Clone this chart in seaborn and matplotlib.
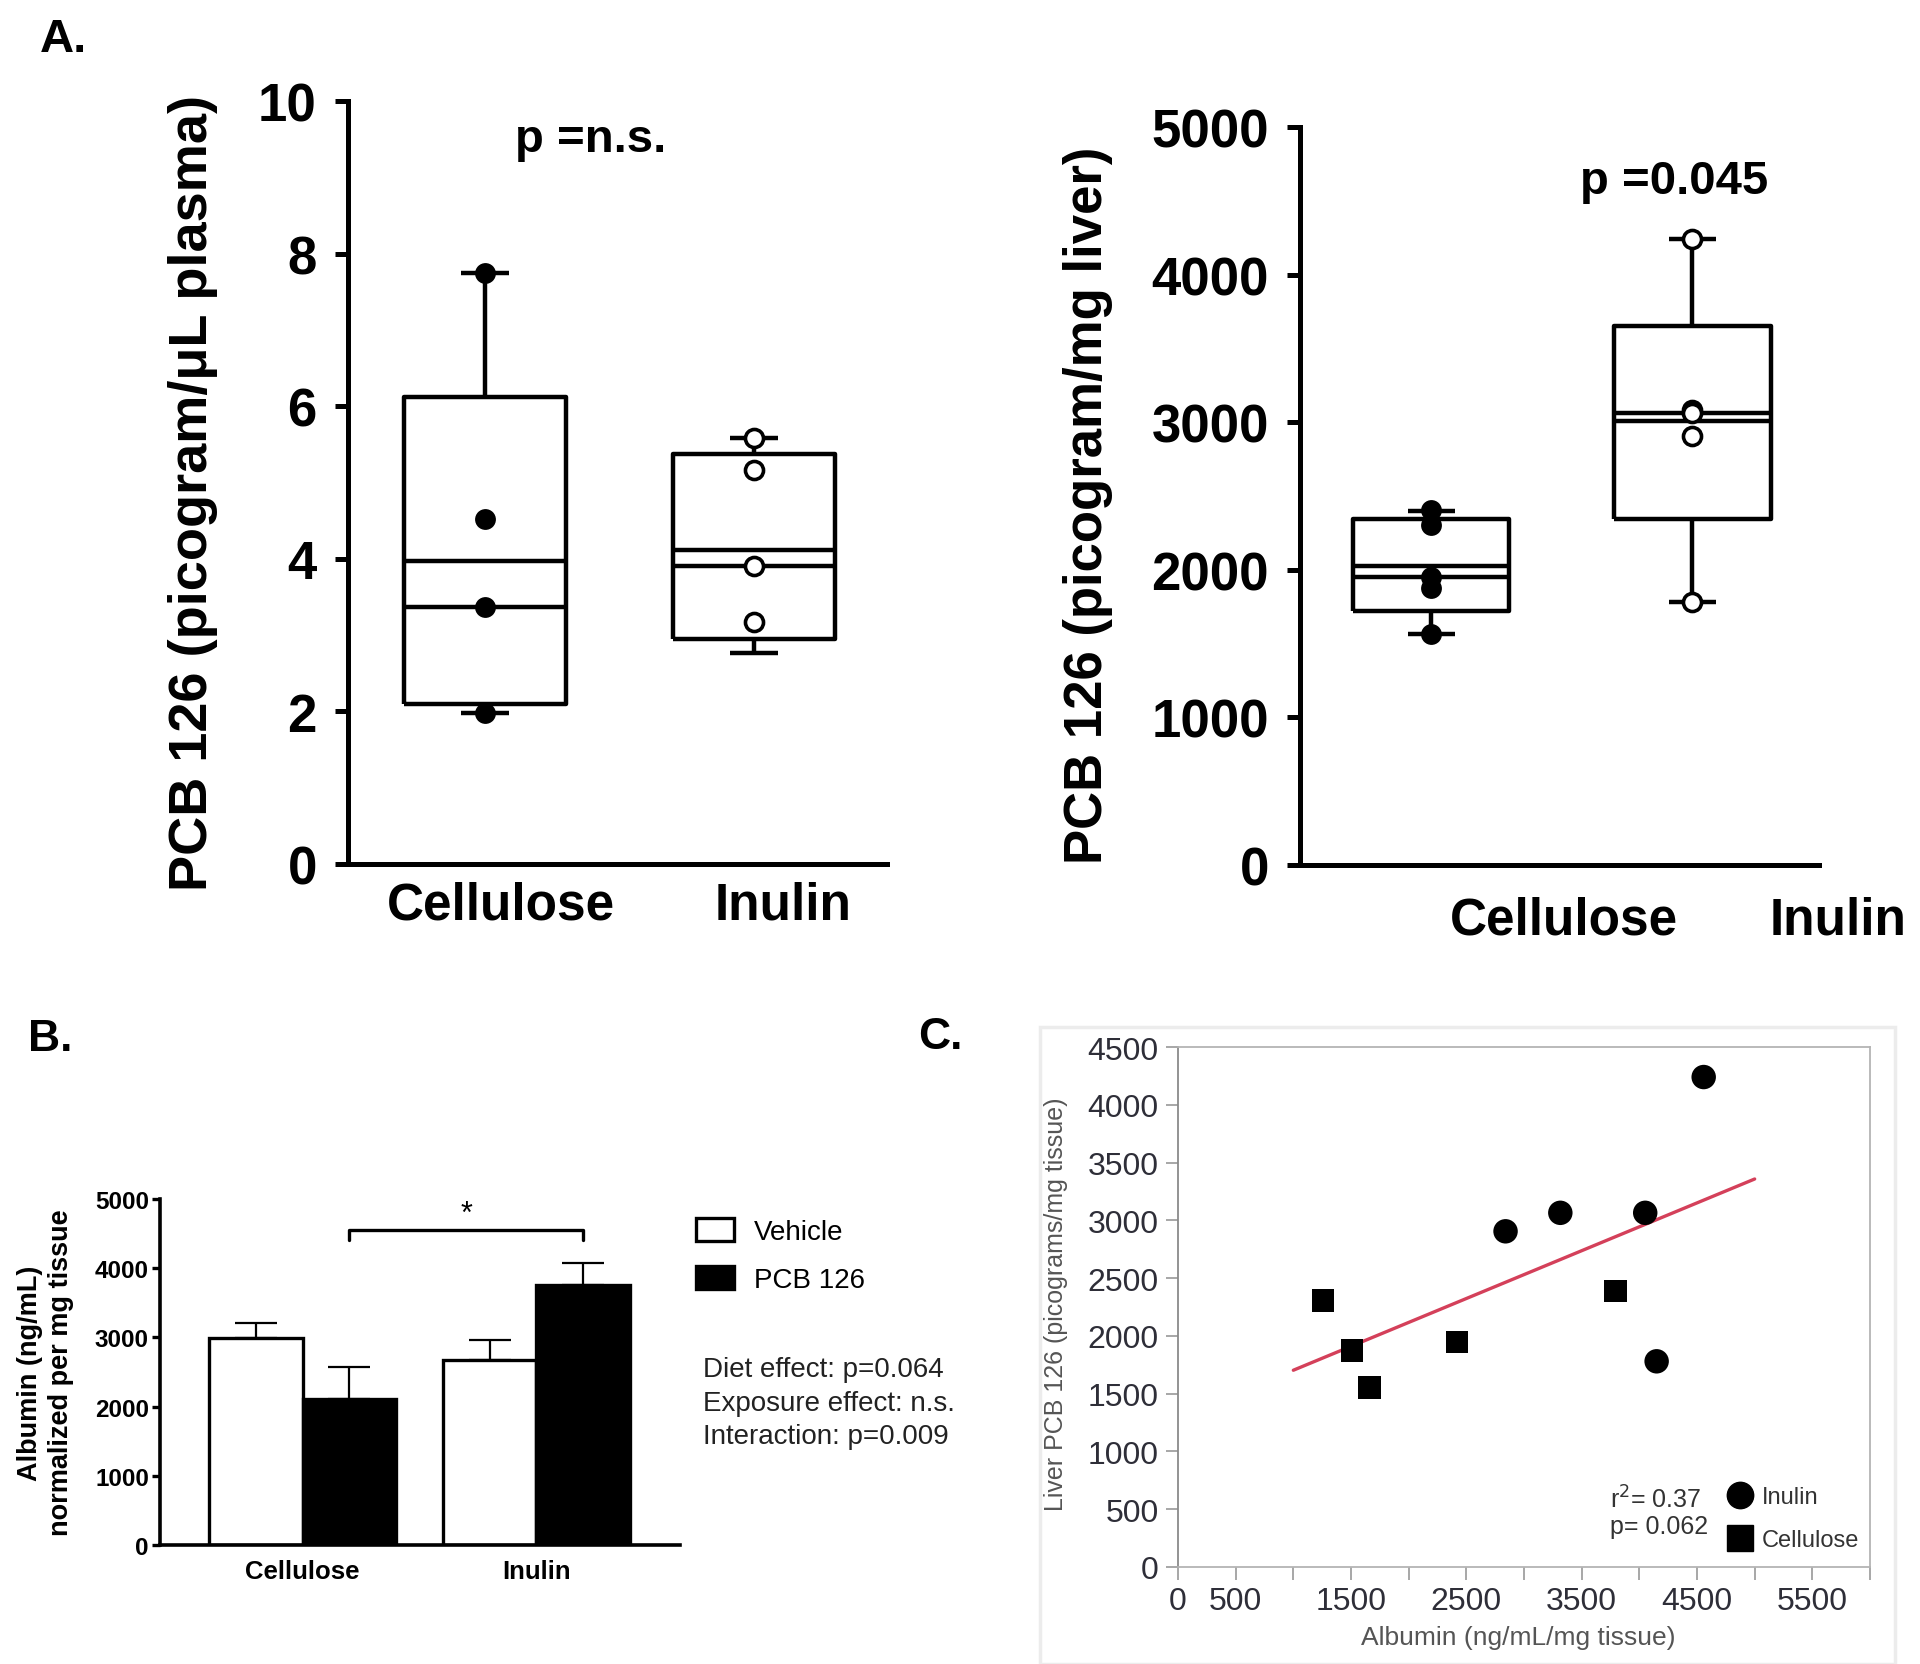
import numpy as np
import pandas as pd
import seaborn as sns
import matplotlib.pyplot as plt
from matplotlib.lines import Line2D
from matplotlib.patches import Patch, Rectangle

sns.set_style("ticks")
plt.rcParams["font.family"] = ["Liberation Sans", "DejaVu Sans"]
plt.rcParams.update({"text.color": "black", "axes.labelcolor": "black",
                     "xtick.color": "black", "ytick.color": "black",
                     "axes.edgecolor": "black"})

W, H = 1920, 1665

# ---------------- data ----------------
groups = ["Cellulose", "Inulin"]

# A (left): plasma PCB 126, picogram/uL
plasma_cellulose = [7.75, 4.52, 3.37, 1.98]
plasma_inulin = [5.58, 5.17, 3.90, 3.17]
plasma_q1 = [2.10, 2.95]
plasma_q3 = [6.12, 5.37]
plasma_line1 = [3.97, 4.12]
plasma_line2 = [3.37, 3.90]
plasma_lo = [1.98, 2.76]
plasma_hi = [7.75, 5.58]

# A (right): liver PCB 126, picogram/mg
liver_cellulose = [2405, 2303, 1950, 1877, 1565]
liver_inulin = [4241, 3083, 3065, 2907, 1782]
liver_q1 = [1721, 2344]
liver_q3 = [2344, 3650]
liver_line1 = [2025, 3062]
liver_line2 = [1950, 3008]
liver_lo = [1565, 1782]
liver_hi = [2396, 4241]

# B: albumin
exposures = ["Vehicle", "PCB 126"]
vehicle_mean = [2995, 2674]
vehicle_top = [3205, 2956]
pcb_mean = [2108, 3758]
pcb_top = [2575, 4082]

# C: albumin vs liver PCB 126
inulin_alb = [4558, 2840, 3315, 4051, 4150]
inulin_pcb = [4240, 2905, 3065, 3065, 1780]
cell_alb = [1255, 1511, 1660, 2420, 3792]
cell_pcb = [2305, 1872, 1553, 1946, 2386]
fit_range = [1000, 5000]
c_xtick_labels = ["0", "500", "", "1500", "", "2500", "", "3500", "", "4500", "", "5500", ""]

fig = plt.figure(figsize=(W / 100, H / 100), dpi=100)


def rect(l, t, r, b):
    return [l / W, 1 - b / H, (r - l) / W, (b - t) / H]


def box_panel(ax, pts_c, pts_i, q1, q3, l1, l2, lo, hi):
    stats = []
    for k in range(2):
        stats.append(dict(q1=q1[k], q3=q3[k], med=l1[k], mean=l2[k],
                          whislo=lo[k], whishi=hi[k], fliers=[]))
    lp = dict(color="black", lw=3.2, solid_capstyle="butt")
    ax.bxp(stats, positions=[0, 1], widths=0.6, capwidths=0.18,
           showmeans=True, meanline=True, showfliers=False,
           boxprops=lp, medianprops=lp, whiskerprops=lp, capprops=lp,
           meanprops=dict(color="black", lw=3.2, ls="-"))
    sns.stripplot(x=["Cellulose"] * len(pts_c), y=pts_c, order=groups,
                  jitter=False, color="black", size=15, zorder=3, ax=ax)
    sns.stripplot(x=["Inulin"] * len(pts_i), y=pts_i, order=groups,
                  jitter=False, color="white", edgecolor="black",
                  linewidth=2.6, size=13, zorder=3, ax=ax)
    sns.despine(ax=ax)
    for s in ["left", "bottom"]:
        ax.spines[s].set_linewidth(3.6)
    ax.tick_params(axis="y", length=9.5, width=3.6, labelsize=38, pad=13)
    ax.tick_params(axis="x", length=0, labelsize=37, pad=12)


# ---------------- A left ----------------
axA1 = fig.add_axes(rect(348, 102, 887, 865))
box_panel(axA1, plasma_cellulose, plasma_inulin, plasma_q1, plasma_q3,
          plasma_line1, plasma_line2, plasma_lo, plasma_hi)
axA1.set_yticks(np.arange(0, 11, 2))
axA1.set_xticks([0.06, 1.11], groups)
axA1.set_ylim(0, 10)
axA1.set_xlim(-0.51, 1.495)
axA1.set_ylabel("PCB 126 (picogram/\u03bcL plasma)", fontsize=39, fontweight="bold")
axA1.yaxis.set_label_coords(-0.2876, 0.4876)
axA1.yaxis.label.set(va="center", ha="center", rotation_mode="anchor")
axA1.text(0.394, 9.34, "p =n.s.", ha="center", va="baseline", fontsize=34, fontweight="bold")

# ---------------- A right ----------------
# axes run a bit past the drawn x axis so the shifted "Inulin" label fits
axA2 = fig.add_axes(rect(1300, 128, 1875, 866))
box_panel(axA2, liver_cellulose, liver_inulin, liver_q1, liver_q3,
          liver_line1, liver_line2, liver_lo, liver_hi)
axA2.set_yticks(np.arange(0, 5001, 1000))
axA2.set_xticks([0.51, 1.56], groups)
axA2.set_ylim(0, 5000)
axA2.set_xlim(-0.502, 1.7)
axA2.spines["bottom"].set_bounds(-0.502, 1.487)
axA2.tick_params(axis="x", pad=22)
axA2.set_ylabel("PCB 126 (picogram/mg liver)", fontsize=38, fontweight="bold")
axA2.yaxis.set_label_coords(-0.3687, 0.489)
axA2.yaxis.label.set(va="center", ha="center", rotation_mode="anchor")
axA2.text(0.93, 4553, "p =0.045", ha="center", va="baseline", fontsize=34, fontweight="bold")

for ax in (axA1, axA2):
    plt.setp(ax.get_xticklabels() + ax.get_yticklabels(), fontweight="bold")

# ---------------- B ----------------
axB = fig.add_axes(rect(160, 1200, 680, 1546))
dfB = pd.DataFrame({
    "diet": groups * 2,
    "exposure": [exposures[0]] * 2 + [exposures[1]] * 2,
    "albumin": vehicle_mean + pcb_mean,
})
sns.barplot(data=dfB, x="diet", y="albumin", hue="exposure", order=groups,
            hue_order=exposures, palette={"Vehicle": "white", "PCB 126": "black"},
            edgecolor="black", linewidth=2.4, errorbar=None, width=0.8, gap=0,
            legend=False, ax=axB)
tops = vehicle_top + pcb_top
centers = []
for bar, top in zip(axB.patches, tops):
    xc = bar.get_x() + bar.get_width() / 2
    centers.append(xc)
    h = bar.get_height()
    axB.errorbar([xc], [h], yerr=[[0], [top - h]], color="black", lw=1.6,
                 capsize=15, capthick=1.6, fmt="none", zorder=0.5)
x1, x2 = centers[2], centers[3]
axB.plot([x1, x1, x2, x2], [4408, 4552, 4552, 4408], color="black", lw=2.4)
axB.text((x1 + x2) / 2, 4780, "*", ha="center", va="center", fontsize=22)
axB.set_ylim(0, 5000)
axB.set_yticks(np.arange(0, 5001, 1000))
axB.set_xlim(-0.61, 1.615)
axB.set_xlabel("")
sns.despine(ax=axB)
for s in ["left", "bottom"]:
    axB.spines[s].set_linewidth(2.6)
axB.tick_params(axis="y", length=6, width=2.4, labelsize=17.5, pad=2)
axB.tick_params(axis="x", length=0, labelsize=18.5, pad=10)
plt.setp(axB.get_xticklabels() + axB.get_yticklabels(), fontweight="bold")
axB.set_ylabel("Albumin (ng/mL)\nnormalized per mg tissue", fontsize=19.5,
               fontweight="bold", linespacing=1.25)
axB.yaxis.set_label_coords(-0.221, 0.5)
axB.yaxis.label.set(va="center", ha="center", rotation_mode="anchor")
handlesB = [Patch(facecolor="white", edgecolor="black", lw=2.4, label="Vehicle"),
            Patch(facecolor="black", edgecolor="black", lw=2.4, label="PCB 126")]
axB.legend(handles=handlesB, loc="upper left", bbox_to_anchor=(696 / W, 1 - 1219 / H),
           bbox_transform=fig.transFigure, frameon=False, fontsize=20,
           handlelength=1.35, handleheight=0.9, handletextpad=0.75,
           labelspacing=0.75, borderpad=0, borderaxespad=0)
fig.text(703 / W, 1 - 1357 / H,
         "Diet effect: p=0.064\nExposure effect: n.s.\nInteraction: p=0.009",
         ha="left", va="top", fontsize=20, linespacing=1.38, color="#222222")

# ---------------- C ----------------
fig.patches.append(Rectangle((1040 / W, 0), 855 / W, 1 - 1028 / H,
                             transform=fig.transFigure, fill=False,
                             edgecolor="#ececec", lw=2.5))
axC = fig.add_axes(rect(1178, 1048, 1870, 1568))
dfC = pd.DataFrame({
    "albumin": inulin_alb + cell_alb,
    "pcb": inulin_pcb + cell_pcb,
    "diet": ["Inulin"] * len(inulin_alb) + ["Cellulose"] * len(cell_alb),
})
slope, intercept = np.polyfit(dfC["albumin"], dfC["pcb"], 1)
fit_x = np.array(fit_range)
sns.lineplot(x=fit_x, y=slope * fit_x + intercept, color="#d4405a", lw=2.4, ax=axC)
sns.scatterplot(data=dfC, x="albumin", y="pcb", style="diet", size="diet",
                style_order=["Inulin", "Cellulose"],
                markers={"Inulin": "o", "Cellulose": "s"},
                sizes={"Inulin": 310, "Cellulose": 260},
                color="black", linewidth=0, legend=False, zorder=3, ax=axC)
axC.set_xticks(np.arange(0, 6001, 500), c_xtick_labels)
axC.set_yticks(np.arange(0, 4501, 500))
axC.set_xlim(0, 6000)
axC.set_ylim(0, 4500)
for s in axC.spines.values():
    s.set_color("#b4b4b4")
    s.set_linewidth(1.3)
axC.spines["left"].set_color("#8a8a8a")
axC.tick_params(axis="both", color="#a0a0a0", width=1.3, length=9,
                labelsize=23, labelcolor="#2e2e38", pad=5)
axC.set_xlabel("Albumin (ng/mL/mg tissue)", fontsize=19, color="#555555")
axC.xaxis.set_label_coords(0.491, -0.1346)
axC.xaxis.label.set(va="center", ha="center")
axC.set_ylabel("Liver PCB 126 (picograms/mg tissue)", fontsize=18, color="#555555")
axC.yaxis.set_label_coords(-0.1763, 0.5077)
axC.yaxis.label.set(va="center", ha="center", rotation_mode="anchor")
axC.text(0.624, 0.115, "r$^2$= 0.37", transform=axC.transAxes, fontsize=18,
         va="baseline", ha="left", color="#333333")
axC.text(0.624, 0.066, "p= 0.062", transform=axC.transAxes, fontsize=18,
         va="baseline", ha="left", color="#333333")
handlesC = [Line2D([], [], ls="", marker="o", color="black", markersize=19, label="Inulin"),
            Line2D([], [], ls="", marker="s", color="black", markersize=19, label="Cellulose")]
axC.legend(handles=handlesC, loc="upper left", bbox_to_anchor=(1726 / W, 1 - 1487 / H),
           bbox_transform=fig.transFigure, frameon=False, fontsize=17,
           handlelength=1.2, handletextpad=0.3, labelspacing=0.9,
           borderpad=0, borderaxespad=0, labelcolor="#333333")

# panel letters
fig.text(40 / W, 1 - 52 / H, "A.", fontsize=34, fontweight="bold", va="baseline")
fig.text(28 / W, 1 - 1051 / H, "B.", fontsize=32, fontweight="bold", va="baseline")
fig.text(918 / W, 1 - 1049 / H, "C.", fontsize=32, fontweight="bold", va="baseline")

fig.savefig("out.png", dpi=100)
